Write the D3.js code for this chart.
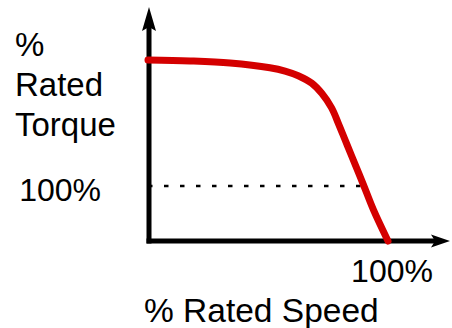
<!DOCTYPE html>
<html>
<head>
<meta charset="utf-8">
<script src="https://cdn.jsdelivr.net/npm/d3@7"></script>
<style>
  html, body { margin: 0; padding: 0; background: #fff; }
  svg { display: block; }
  text { font-family: "Liberation Sans", Arial, sans-serif; fill: #000; }
</style>
</head>
<body>
<svg id="chart" width="452" height="328"></svg>
<script>
// ---- data ----
const speed  = [0, 17.5, 34.2, 50.8, 57.1, 62.6, 68.2, 72.4, 76.5, 79.3, 82.1, 84.9, 89.7, 93.9, 100];
const torque = [329, 327.3, 323.6, 315, 309, 300.5, 287, 268.5, 242, 214, 184, 154, 103, 57, 0];
const refSpeed  = [0, 90.5];
const refTorque = [100, 100];
const xTickValues = [100];
const xTickLabels = ["100%"];
const yTickValues = [100];
const yTickLabels = ["100%"];
const yTitleLines = ["%", "Rated", "Torque"];
const xTitle = "% Rated Speed";

// ---- layout ----
const svg = d3.select("#chart");
const x = d3.scaleLinear().domain([0, 100]).range([148, 388]);
const y = d3.scaleLinear().domain([0, 100]).range([241, 186]);

// reference dotted line
const refData = refSpeed.map((s, i) => ({ s, t: refTorque[i] }));
svg.append("path")
  .datum(refData)
  .attr("d", d3.line().x(d => x(d.s)).y(d => y(d.t)))
  .attr("fill", "none")
  .attr("stroke", "#000")
  .attr("stroke-width", 2.5)
  .attr("stroke-dasharray", "4.5 11.5");

// axes (lines with arrowheads)
const axisW = 5;
const x0 = x(0) + 1, yBase = y(0);
svg.append("line")
  .attr("x1", x0).attr("y1", yBase + axisW / 2)
  .attr("x2", x0).attr("y2", 26)
  .attr("stroke", "#000").attr("stroke-width", axisW);
svg.append("path")
  .attr("d", `M${x0},7 L${x0 + 7},31 L${x0},27 L${x0 - 7},31 Z`)
  .attr("fill", "#000");

svg.append("line")
  .attr("x1", x0 - axisW / 2).attr("y1", yBase)
  .attr("x2", 436).attr("y2", yBase)
  .attr("stroke", "#000").attr("stroke-width", axisW);
svg.append("path")
  .attr("d", `M450,${yBase} L431,${yBase - 6.5} L435,${yBase} L431,${yBase + 6.5} Z`)
  .attr("fill", "#000");

// curve
const curveData = speed.map((s, i) => ({ s, t: torque[i] }));
svg.append("path")
  .datum(curveData)
  .attr("d", d3.line().x(d => x(d.s)).y(d => y(d.t)).curve(d3.curveCatmullRom.alpha(0.5)))
  .attr("fill", "none")
  .attr("stroke", "#d40000")
  .attr("stroke-width", 7)
  .attr("stroke-linecap", "round")
  .attr("stroke-linejoin", "round");

// tick labels
svg.selectAll("text.xtick").data(xTickValues).enter().append("text")
  .attr("class", "xtick")
  .attr("x", d => x(d) + 4)
  .attr("y", 282)
  .attr("text-anchor", "middle")
  .style("font-size", "32px")
  .text((d, i) => xTickLabels[i]);

svg.selectAll("text.ytick").data(yTickValues).enter().append("text")
  .attr("class", "ytick")
  .attr("x", 101)
  .attr("y", d => y(d) + 15)
  .attr("text-anchor", "end")
  .style("font-size", "32px")
  .text((d, i) => yTickLabels[i]);

// titles
svg.selectAll("text.ytitle").data(yTitleLines).enter().append("text")
  .attr("class", "ytitle")
  .attr("x", 15)
  .attr("y", (d, i) => 56 + i * 40)
  .style("font-size", "33px")
  .text(d => d);

svg.append("text")
  .attr("x", 144)
  .attr("y", 322)
  .style("font-size", "33.5px")
  .text(xTitle);
</script>
</body>
</html>
